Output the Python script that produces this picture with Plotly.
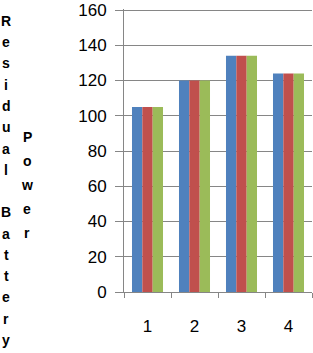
import plotly.graph_objects as go

categories = ["1", "2", "3", "4"]
series_a = [105, 120, 134, 124]
series_b = [105, 120, 134, 124]
series_c = [105, 120, 134, 124]
colors = ["#4F81BD", "#C0504D", "#9BBB59"]
y_ticks = [0, 20, 40, 60, 80, 100, 120, 140, 160]
title_col1 = "Residual Battery"
title_col2 = "Power"

fig = go.Figure()
for vals, c in zip([series_a, series_b, series_c], colors):
    fig.add_trace(go.Bar(x=categories, y=vals, marker=dict(color=c, line=dict(width=0)),
                         showlegend=False))

fig.update_layout(
    width=313, height=353,
    margin=dict(l=124, r=1, t=6, b=61),
    paper_bgcolor="white", plot_bgcolor="white",
    barmode="group", bargap=0.34, bargroupgap=0,
    font=dict(family="Liberation Sans", size=17, color="black"),
)
fig.update_yaxes(range=[0, 160.6], tickvals=y_ticks, ticklabeloverflow="allow",
                 showgrid=True, gridcolor="#868686", gridwidth=1,
                 showline=True, linecolor="#868686", linewidth=1, ticks="outside", ticklen=8,
                 tickcolor="#868686", zeroline=False, ticklabelstandoff=5)
fig.update_xaxes(type="category", showline=True, linecolor="#868686", linewidth=1,
                 ticks="outside", ticklen=5, tickcolor="#868686", tickson="boundaries",
                 ticklabelstandoff=19)

anns = []
for i, ch in enumerate(title_col1):
    if ch == " ":
        continue
    anns.append(dict(text=f"<b>{ch}</b>", x=6, y=18 + i * 21.5))
for i, ch in enumerate(title_col2):
    anns.append(dict(text=f"<b>{ch}</b>", x=27, y=135 + i * 24.3))
plot_w = 313 - 124 - 1
plot_h = 353 - 6 - 61
for a in anns:
    a.update(xref="paper", yref="paper", showarrow=False, xanchor="center", yanchor="middle",
             font=dict(family="Liberation Sans", size=14, color="black"))
    a["x"] = (a["x"] - 124) / plot_w
    a["y"] = ((353 - a["y"]) - 61) / plot_h
fig.update_layout(annotations=anns)

fig.write_html("out.html")
